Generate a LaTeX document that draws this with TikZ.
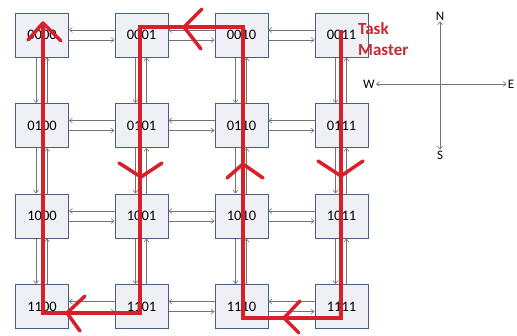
\documentclass[tikz,border=0pt]{standalone}
\usepackage{fontspec}
\setmainfont{Carlito}
\usetikzlibrary{arrows.meta}
\definecolor{boxfill}{RGB}{238,240,245}
\definecolor{boxdraw}{RGB}{70,95,130}
\definecolor{linkgray}{RGB}{115,115,115}
\definecolor{route}{RGB}{215,32,42}
\definecolor{tmred}{RGB}{200,40,50}
\begin{document}
\begin{tikzpicture}[x=1pt,y=-1pt,
  cell/.style={draw=boxdraw,fill=boxfill,line width=1pt,minimum width=53pt,minimum height=44pt,inner sep=0pt,font=\fontsize{14.5}{14.5}\selectfont},
  link/.style={draw=linkgray,line width=0.6pt,-{Straight Barb[length=3pt,width=5pt]}},
  compass/.style={draw=linkgray,line width=0.6pt,{Straight Barb[length=3pt,width=5pt]}-{Straight Barb[length=3pt,width=5pt]}},
  dirl/.style={font=\fontsize{13}{13}\selectfont,inner sep=1pt},
  redline/.style={draw=route,line width=4.5pt,line join=miter},
  chev/.style={draw=route,line width=3.5pt,line cap=round,line join=round}]
\useasboundingbox (0,0) rectangle (517,335);
\fill[white] (0,0) rectangle (517,335);
% nodes
\node[cell] (b00) at (42,35) {0000};
\node[cell] (b01) at (141.5,35) {0001};
\node[cell] (b02) at (241.5,35) {0010};
\node[cell] (b03) at (341.5,35) {0011};
\node[cell] (b10) at (42,125.5) {0100};
\node[cell] (b11) at (141.5,125.5) {0101};
\node[cell] (b12) at (241.5,125.5) {0110};
\node[cell] (b13) at (341.5,125.5) {0111};
\node[cell] (b20) at (42,216) {1000};
\node[cell] (b21) at (141.5,216) {1001};
\node[cell] (b22) at (241.5,216) {1010};
\node[cell] (b23) at (341.5,216) {1011};
\node[cell] (b30) at (42,306.5) {1100};
\node[cell] (b31) at (141.5,306.5) {1101};
\node[cell] (b32) at (241.5,306.5) {1110};
\node[cell] (b33) at (341.5,306.5) {1111};
% horizontal links
\foreach \r in {0,1,2,3}{
  \foreach \a/\b in {0/1,1/2,2/3}{
    \draw[link] ([yshift=5pt]b\r\b.west) -- ([yshift=5pt]b\r\a.east);
    \draw[link] ([yshift=-5pt]b\r\a.east) -- ([yshift=-5pt]b\r\b.west);
  }
}
% vertical links
\foreach \c in {0,1,2,3}{
  \foreach \a/\b in {0/1,1/2,2/3}{
    \draw[link] ([xshift=-6pt]b\a\c.south) -- ([xshift=-6pt]b\b\c.north);
    \draw[link] ([xshift=5pt]b\b\c.north) -- ([xshift=5pt]b\a\c.south);
  }
}
% compass
\node[dirl] (N) at (440,16) {N};
\node[dirl] (S) at (440,155) {S};
\node[dirl] (W) at (369,84) {W};
\node[dirl] (E) at (511,84) {E};
\draw[compass] (N) -- (S);
\draw[compass] (W) -- (E);
% task master
\node[font=\fontsize{17}{21}\selectfont\bfseries,text=tmred,align=left,anchor=north west,inner sep=0pt] (tm) at (358,22) {Task\\Master};
% red route
\coordinate (r0) at (341,30);
\coordinate (r1) at (341,318);
\coordinate (r2) at (243,318);
\coordinate (r3) at (243,27);
\coordinate (r4) at (140,27);
\coordinate (r5) at (140,313);
\coordinate (r6) at (43,313);
\coordinate (r7) at (43,24);
\draw[redline] (r0) -- (r1) -- (r2) -- (r3) -- (r4) -- (r5) -- (r6) -- (r7);
% chevrons
\draw[chev] (28,40) -- (43,23) -- (61,41);
\draw[chev] (202,9) -- (184,27) -- (201,49);
\draw[chev] (119,163) -- (141,177) -- (162,163);
\draw[chev] (227,178) -- (243,164) -- (263,178);
\draw[chev] (318,161) -- (341,176) -- (363,161);
\draw[chev] (85,296) -- (67,313) -- (80,331);
\draw[chev] (300,301) -- (284,318) -- (299,333);
\end{tikzpicture}
\end{document}
